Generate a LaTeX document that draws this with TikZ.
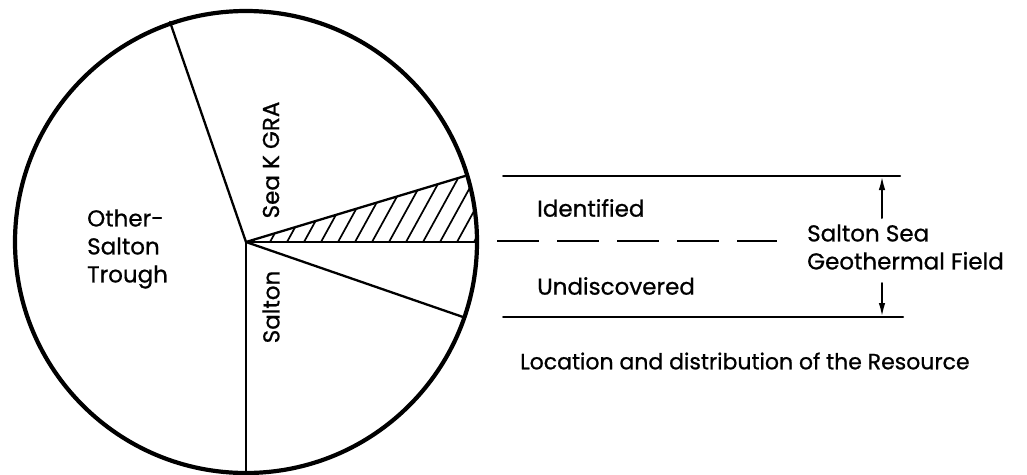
\documentclass[tikz,border=0pt]{standalone}
\usepackage{fontspec}
\setmainfont{Poppins}[FakeBold=0.8]
\usetikzlibrary{arrows.meta,calc}
\begin{document}
\begin{tikzpicture}[x=1pt,y=-1pt,line cap=round,
  rim/.style={line width=4.2pt},
  seg/.style={line width=2.3pt},
  hatch/.style={line width=1.7pt},
  rule/.style={line width=2pt},
  dim/.style={line width=2pt,-{Latex[length=14pt,width=6.5pt]}},
  lbl/.style={font=\fontsize{23}{28}\selectfont,inner sep=0pt}]
\useasboundingbox (0,0) rectangle (1027,474);
\coordinate (O) at (246,242);
\coordinate (P1) at (170,22);
\coordinate (P2) at (465,176);
\coordinate (P3) at (478,242);
\coordinate (P4) at (463,317);
\coordinate (P5) at (246,473);
% hatch
\begin{scope}
  \clip (O) circle[radius=231pt];
  \clip (O) -- (P2) -- ($(P2)+(40,0)$) -- ($(P3)+(20,0)$) -- cycle;
  \foreach \i in {0,...,14}
    \draw[hatch] (236+17*\i,242) -- ++(44,-80);
\end{scope}
\draw[rim] (O) circle[radius=231pt];
\draw[seg] (O) -- (P1);
\draw[seg] (O) -- (P2);
\draw[seg] (O) -- (P3);
\draw[seg] (O) -- (P4);
\draw[seg] (O) -- (P5);
% right side
\coordinate (T1) at (503,176); \coordinate (T2) at (900,176);
\coordinate (B1) at (503,317); \coordinate (B2) at (903,317);
\coordinate (D1) at (497,241); \coordinate (D2) at (777,241);
\draw[rule] (T1) -- (T2);
\draw[rule] (B1) -- (B2);
\draw[rule,line cap=butt,dash pattern=on 42pt off 18pt] (D1) -- (D2);
\coordinate (A1) at (882,218); \coordinate (A1e) at (882,176);
\coordinate (A2) at (882,283); \coordinate (A2e) at (882,317);
\draw[dim] (A1) -- (A1e);
\draw[dim] (A2) -- (A2e);
% labels
\node[lbl,anchor=west] (id) at (537,208) {Identified};
\node[lbl,anchor=west] (un) at (537,286) {Undiscovered};
\node[lbl,anchor=west,align=left] (ss) at (807,247) {Salton Sea\\Geothermal Field};
\node[lbl,anchor=west,font=\fontsize{22}{28}\selectfont] (loc) at (520,361) {Location and distribution of the Resource};
\node[lbl,anchor=west,align=left] (ot) at (87,249) {Other-\\Salton\\Trough};
\node[lbl,rotate=90] (kg) at (271,160) {Sea K GRA};
\node[lbl,rotate=90] (sa) at (271,307) {Salton};
\end{tikzpicture}
\end{document}
